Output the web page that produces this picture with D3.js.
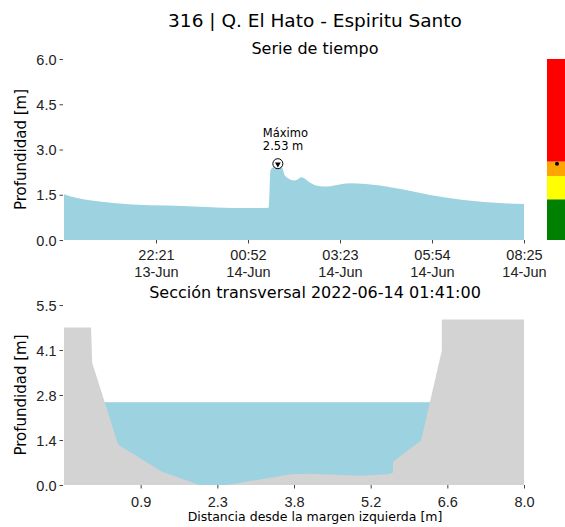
<!DOCTYPE html>
<html>
<head>
<meta charset="utf-8">
<script src="https://cdn.jsdelivr.net/npm/d3@7"></script>
<style>
  body { margin: 0; background: #fff; }
  svg { font-family: "DejaVu Sans", sans-serif; }
  .tick line { stroke: #444; }
  .tick text { fill: #222; }
</style>
</head>
<body>
<div id="chart"></div>
<script>
// Time series: depth [m] at time of day (13-Jun evening to 14-Jun morning)
const seriesTimes = ['2022-06-13 19:50', '2022-06-13 20:10', '2022-06-13 20:48', '2022-06-13 21:42',
  '2022-06-13 22:38', '2022-06-13 23:32', '2022-06-14 00:27', '2022-06-14 00:55', '2022-06-14 01:26',
  '2022-06-14 01:29', '2022-06-14 01:34', '2022-06-14 01:41', '2022-06-14 01:48', '2022-06-14 01:53',
  '2022-06-14 02:09', '2022-06-14 02:20', '2022-06-14 02:34', '2022-06-14 02:47', '2022-06-14 03:03',
  '2022-06-14 03:20', '2022-06-14 03:39', '2022-06-14 04:05', '2022-06-14 04:29', '2022-06-14 05:07',
  '2022-06-14 05:51', '2022-06-14 06:46', '2022-06-14 07:52', '2022-06-14 08:25'];
const seriesDepth = [1.52, 1.40, 1.28, 1.18, 1.14, 1.10, 1.06, 1.06, 1.07,
  2.32, 2.42, 2.53, 2.40, 2.12, 1.97, 2.08, 1.90, 1.79, 1.77,
  1.83, 1.88, 1.86, 1.81, 1.67, 1.49, 1.33, 1.22, 1.19];
const timeStart = '2022-06-13 19:50';
const timeEnd = '2022-06-14 08:25';
const depthTicks = [0, 1.5, 3.0, 4.5, 6.0];

// Alert bands (depth thresholds)
const bandBounds = [0, 1.35, 2.12, 2.6, 6.0];
const bandColors = ['green', 'yellow', 'orange', 'red'];

// Maximum
const maxTime = '2022-06-14 01:41';
const maxDepth = 2.53;

// Cross section profile
const profileX = [-0.5, 0.0, 0.02, 0.5, 1.3, 2.0, 2.5, 3.7, 4.0, 5.0, 5.5, 5.58, 5.58, 6.1, 6.48, 6.48, 8.0];
const profileY = [4.81, 4.81, 3.74, 1.24, 0.41, 0.0, 0.0, 0.33, 0.34, 0.28, 0.33, 0.38, 0.71, 1.37, 4.1, 5.06, 5.06];
const waterLevel = 2.53;
const sectionXDomain = [-0.5, 8.0];
const sectionYDomain = [0, 5.5];

const W = 565, H = 527;
const m = {left: 64, right: 524};
const blue = '#9dd2e1';
const gray = '#d3d3d3';
const tickFont = '14.5px';
const parse = d3.timeParse('%Y-%m-%d %H:%M');

const svg = d3.select('#chart').append('svg')
  .attr('width', W).attr('height', H);

// Titles
svg.append('text').attr('x', 315).attr('y', 27).attr('text-anchor', 'middle')
  .style('font-size', '18.5px').text('316 | Q. El Hato - Espiritu Santo');
svg.append('text').attr('x', 315).attr('y', 54).attr('text-anchor', 'middle')
  .style('font-size', '16px').text('Serie de tiempo');
svg.append('text').attr('x', 315).attr('y', 298).attr('text-anchor', 'middle')
  .style('font-size', '16px').text('Sección transversal 2022-06-14 01:41:00');

// ---- Time series panel
const tsBox = {y0: 240, y1: 59};
const x = d3.scaleTime().domain([parse(timeStart), parse(timeEnd)]).range([m.left, m.right]);
const y = d3.scaleLinear().domain([0, 6]).range([tsBox.y0, tsBox.y1]);
const series = seriesTimes.map((t, i) => ({t: parse(t), v: seriesDepth[i]}));

svg.append('path').datum(series)
  .attr('fill', blue)
  .attr('d', d3.area().x(d => x(d.t)).y0(y(0)).y1(d => y(d.v)).curve(d3.curveMonotoneX));

const step = (x.domain()[1] - x.domain()[0]) / 5;
const timeTicks = d3.range(1, 6).map(i => new Date(+x.domain()[0] + i * step));
const fmtH = d3.timeFormat('%H:%M'), fmtD = d3.timeFormat('%d-%b');

const xAxisTop = svg.append('g').attr('transform', `translate(0,${tsBox.y0})`)
  .call(d3.axisBottom(x).tickValues(timeTicks).tickSize(3.5).tickSizeOuter(0).tickFormat(''));
xAxisTop.select('.domain').remove();
xAxisTop.selectAll('.tick').each(function(d) {
  const t = d3.select(this).select('text').style('font-size', tickFont).attr('y', 0);
  t.append('tspan').attr('x', 0).attr('dy', '1.35em').text(fmtH(d));
  t.append('tspan').attr('x', 0).attr('dy', '1.17em').text(fmtD(d));
});

const yAxisTop = svg.append('g').attr('transform', `translate(${m.left - 1},0)`)
  .call(d3.axisLeft(y).tickValues(depthTicks).tickSize(3.5).tickFormat(d3.format('.1f')));
yAxisTop.select('.domain').remove();
yAxisTop.selectAll('text').style('font-size', tickFont).attr('dy', '0.36em');

svg.append('text').attr('transform', `translate(26,${(tsBox.y0 + tsBox.y1) / 2}) rotate(-90)`)
  .attr('text-anchor', 'middle').style('font-size', '15px').text('Profundidad [m]');

// Max marker
const mx = x(parse(maxTime)), my = y(maxDepth);
svg.append('circle').attr('cx', mx).attr('cy', my).attr('r', 5)
  .attr('fill', '#fff').attr('stroke', '#000').attr('stroke-width', 1);
svg.append('path').attr('transform', `translate(${mx},${my + 0.5}) rotate(180)`)
  .attr('d', d3.symbol(d3.symbolTriangle, 14)()).attr('fill', '#000');
const lab = svg.append('text').attr('x', mx - 15).attr('y', 137).style('font-size', '11.5px');
lab.append('tspan').attr('x', mx - 15).text('Máximo');
lab.append('tspan').attr('x', mx - 15).attr('dy', '1.15em').text(maxDepth.toFixed(2) + ' m');

// Alert bar
const barX = 547, barW = 20;
svg.selectAll('rect.band').data(bandColors).enter().append('rect')
  .attr('class', 'band')
  .attr('x', barX).attr('width', barW)
  .attr('y', (d, i) => y(bandBounds[i + 1]))
  .attr('height', (d, i) => y(bandBounds[i]) - y(bandBounds[i + 1]))
  .attr('fill', d => d);
svg.append('circle').attr('cx', barX + 10).attr('cy', y(maxDepth)).attr('r', 2).attr('fill', '#000');

// ---- Cross section panel
const secBox = {y0: 485, y1: 305};
const sx = d3.scaleLinear().domain(sectionXDomain).range([m.left, m.right]);
const sy = d3.scaleLinear().domain(sectionYDomain).range([secBox.y0, secBox.y1]);
const profile = profileX.map((v, i) => ({x: v, y: profileY[i]}));

svg.append('rect').attr('x', sx(sectionXDomain[0])).attr('width', sx(sectionXDomain[1]) - sx(sectionXDomain[0]))
  .attr('y', sy(waterLevel)).attr('height', sy(0) - sy(waterLevel)).attr('fill', blue);
svg.append('path').datum(profile)
  .attr('fill', gray)
  .attr('d', d3.area().x(d => sx(d.x)).y0(sy(0)).y1(d => sy(d.y)));

const sStep = (sectionXDomain[1] - sectionXDomain[0]) / 6;
const sTicks = d3.range(1, 7).map(i => sectionXDomain[0] + i * sStep);
const xAxisBot = svg.append('g').attr('transform', `translate(0,${secBox.y0})`)
  .call(d3.axisBottom(sx).tickValues(sTicks).tickSize(3.5).tickSizeOuter(0).tickFormat(d3.format('.1f')));
xAxisBot.select('.domain').remove();
xAxisBot.selectAll('text').style('font-size', tickFont).attr('dy', '1.05em');

const syTicks = d3.range(0, 5).map(i => sectionYDomain[1] * i / 4);
const yAxisBot = svg.append('g').attr('transform', `translate(${m.left - 1},0)`)
  .call(d3.axisLeft(sy).tickValues(syTicks).tickSize(3.5).tickFormat(d3.format('.1f')));
yAxisBot.select('.domain').remove();
yAxisBot.selectAll('text').style('font-size', tickFont).attr('dy', '0.36em');

svg.append('text').attr('transform', `translate(26,${(secBox.y0 + secBox.y1) / 2}) rotate(-90)`)
  .attr('text-anchor', 'middle').style('font-size', '15px').text('Profundidad [m]');
svg.append('text').attr('x', 315).attr('y', 521).attr('text-anchor', 'middle')
  .style('font-size', '12.5px').text('Distancia desde la margen izquierda [m]');
</script>
</body>
</html>
